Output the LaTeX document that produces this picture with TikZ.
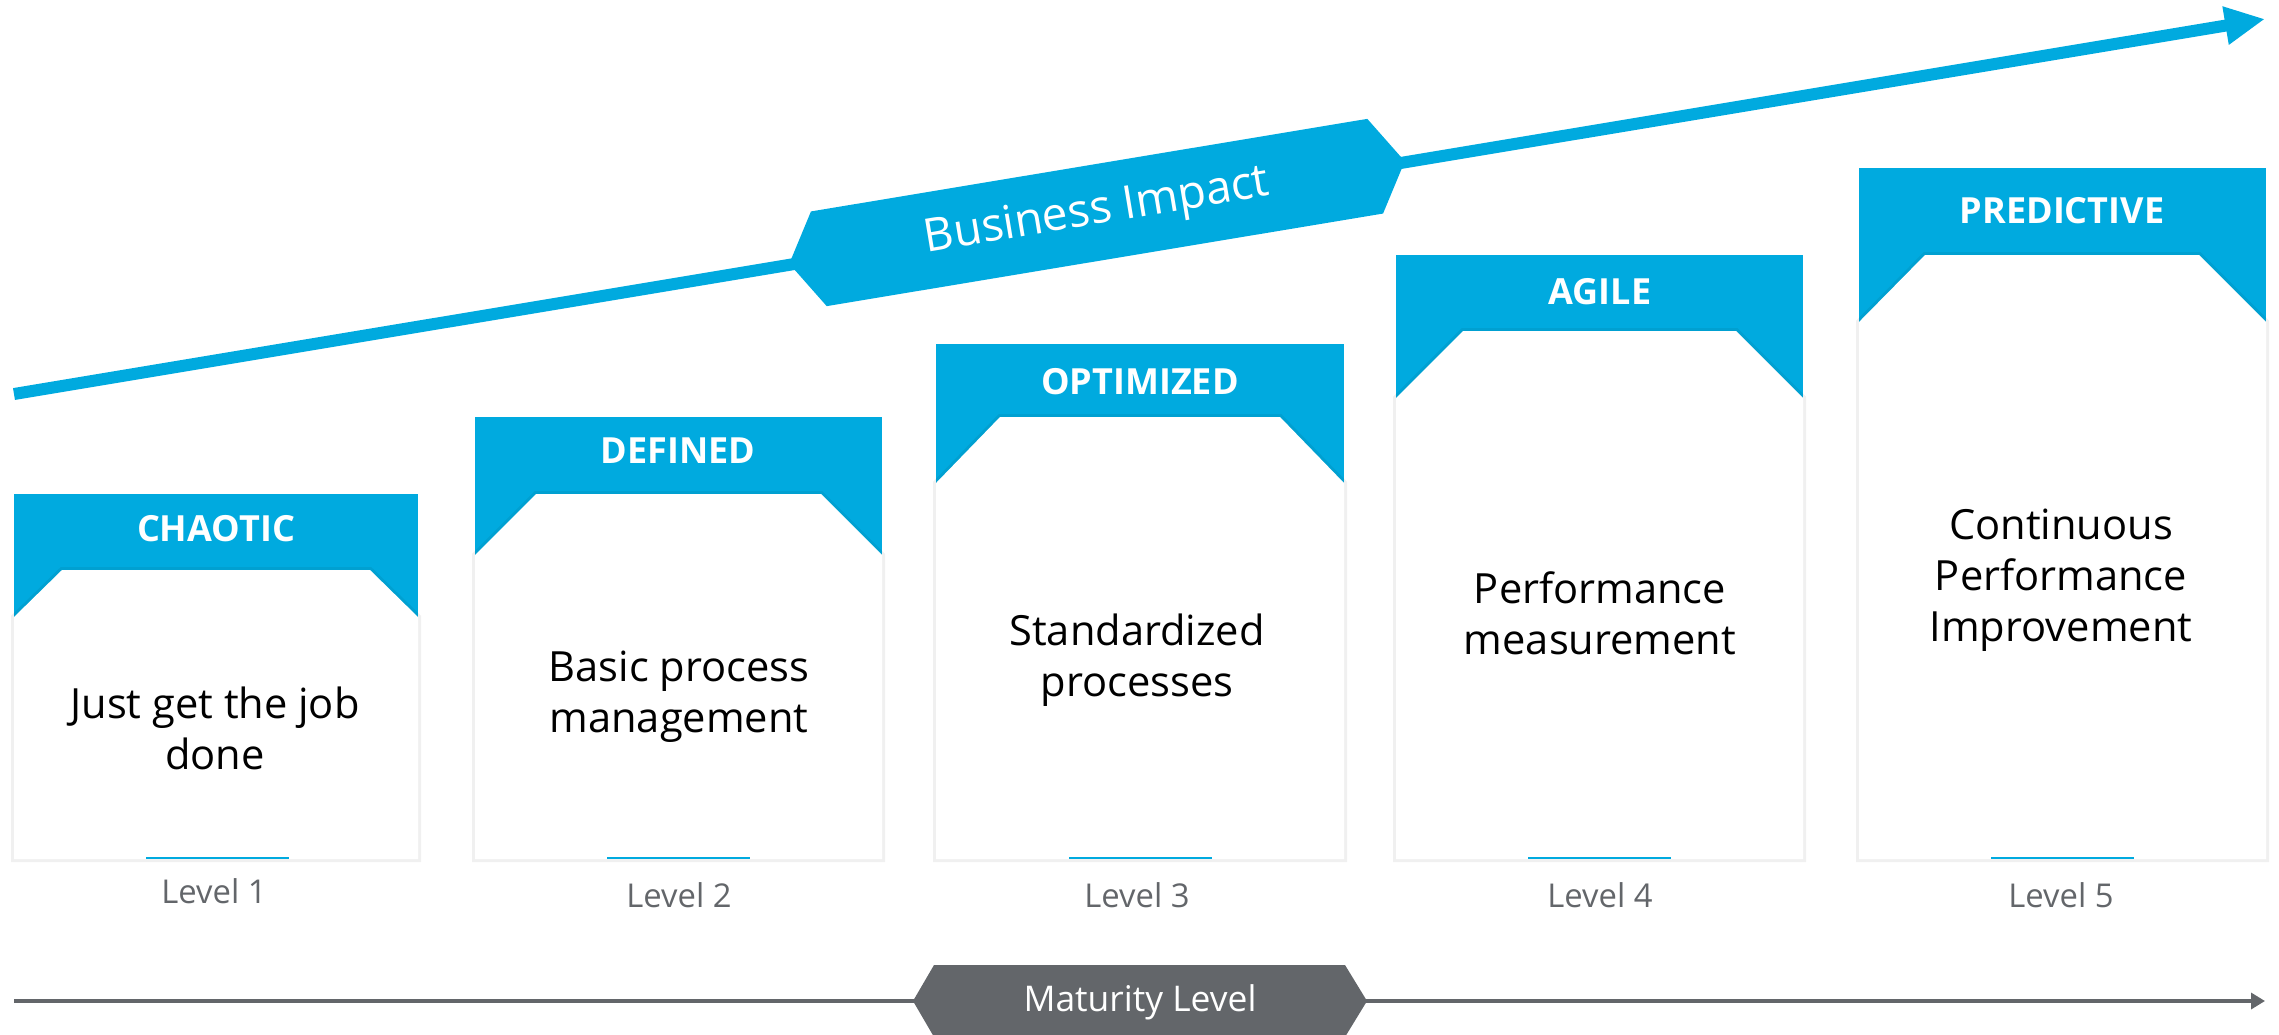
\documentclass[tikz,border=0pt]{standalone}
\usepackage{fontspec}
\setmainfont{Open Sans}
\usetikzlibrary{arrows.meta}
\definecolor{levelblue}{HTML}{00AADF}
\definecolor{levelgray}{HTML}{63666A}
\tikzset{
  head/.style={fill=levelblue},
  card/.style={fill=white,preaction={draw=black,draw opacity=0.06,line width=3pt}},
  title/.style={text=white,font=\bfseries\fontsize{18}{20}\selectfont},
  desc/.style={align=center,font=\fontsize{20.8}{25.5}\selectfont},
  lvl/.style={text=levelgray,font=\fontsize{16.4}{19}\selectfont},
  underbar/.style={draw=levelblue,line width=1pt},
  banner/.style={text=white,inner sep=0pt}
}

\begin{document}
\begin{tikzpicture}[x=0.5pt,y=-0.5pt]
\useasboundingbox (0,0) rectangle (2279,1034);

% business impact arrow
\coordinate (bstart) at (  14,394);
\coordinate (bend)   at (2265, 19);
\draw [levelblue,line width=6pt,-{Triangle[length=20pt,width=18pt]}] (bstart) -- (bend);
\begin{scope}[shift={(1097,212.5)},rotate=9.45]
  \fill [levelblue] (-312,0) -- (-282,-48) -- (282,-48) -- (312,0) -- (282,48) -- (-282,48) -- cycle;
  \node [banner,transform shape,font=\fontsize{23}{25}\selectfont] (impact) at (0,0) {Business Impact};
\end{scope}

% cards
\fill [head] (  14,494) rectangle ( 418,617);
\fill [card] (  14,617) -- (  62,570) -- ( 370,570) -- ( 418,617) -- ( 418,859) -- (  14,859) -- cycle;
\fill [head] ( 475,417) rectangle ( 882,555);
\fill [card] ( 475,555) -- ( 536,494) -- ( 821,494) -- ( 882,555) -- ( 882,859) -- ( 475,859) -- cycle;
\fill [head] ( 936,344) rectangle (1344,483);
\fill [card] ( 936,483) -- (1000,417) -- (1280,417) -- (1344,483) -- (1344,859) -- ( 936,859) -- cycle;
\fill [head] (1396,255) rectangle (1803,398);
\fill [card] (1396,398) -- (1463,331) -- (1736,331) -- (1803,398) -- (1803,859) -- (1396,859) -- cycle;
\fill [head] (1859,168) rectangle (2266,322);
\fill [card] (1859,322) -- (1925,255) -- (2199,255) -- (2266,322) -- (2266,859) -- (1859,859) -- cycle;

\node [title] (chaotic)    at ( 216,529) {CHAOTIC};
\node [title] (defined)    at ( 678,451) {DEFINED};
\node [title] (optimized)  at (1140,382) {OPTIMIZED};
\node [title] (agile)      at (1600,292) {AGILE};
\node [title] (predictive) at (2062,211) {PREDICTIVE};

\node [desc] (chaoticdesc)    at ( 215,728) {Just get the job\\done};
\node [desc] (defineddesc)    at ( 679,697) {Basic process\\management};
\node [desc] (optimizeddesc)  at (1137,660) {Standardized\\processes};
\node [desc] (agiledesc)      at (1600,613) {Performance\\measurement};
\node [desc] (predictivedesc) at (2061,580) {Continuous\\Performance\\Improvement};

\draw [underbar] ( 146,858) -- ( 289,858);
\draw [underbar] ( 607,858) -- ( 750,858);
\draw [underbar] (1069,858) -- (1212,858);
\draw [underbar] (1528,858) -- (1671,858);
\draw [underbar] (1991,858) -- (2134,858);

\node [lvl] (level1) at ( 214,891) {Level 1};
\node [lvl] (level2) at ( 679,895) {Level 2};
\node [lvl] (level3) at (1137,895) {Level 3};
\node [lvl] (level4) at (1600,895) {Level 4};
\node [lvl] (level5) at (2061,895) {Level 5};

% maturity level arrow
\coordinate (mstart) at (  14,1001);
\coordinate (mend)   at (2265,1001);
\draw [levelgray,line width=1.7pt,-{Triangle[length=7pt,width=8pt]}] (mstart) -- (mend);
\fill [levelgray] (913,1001) -- (934,965) -- (1345,965) -- (1367,1001) -- (1345,1037) -- (934,1037) -- cycle;
\node [banner,font=\fontsize{17.7}{20}\selectfont] (maturity) at (1140,1002) {Maturity Level};
\end{tikzpicture}
\end{document}
